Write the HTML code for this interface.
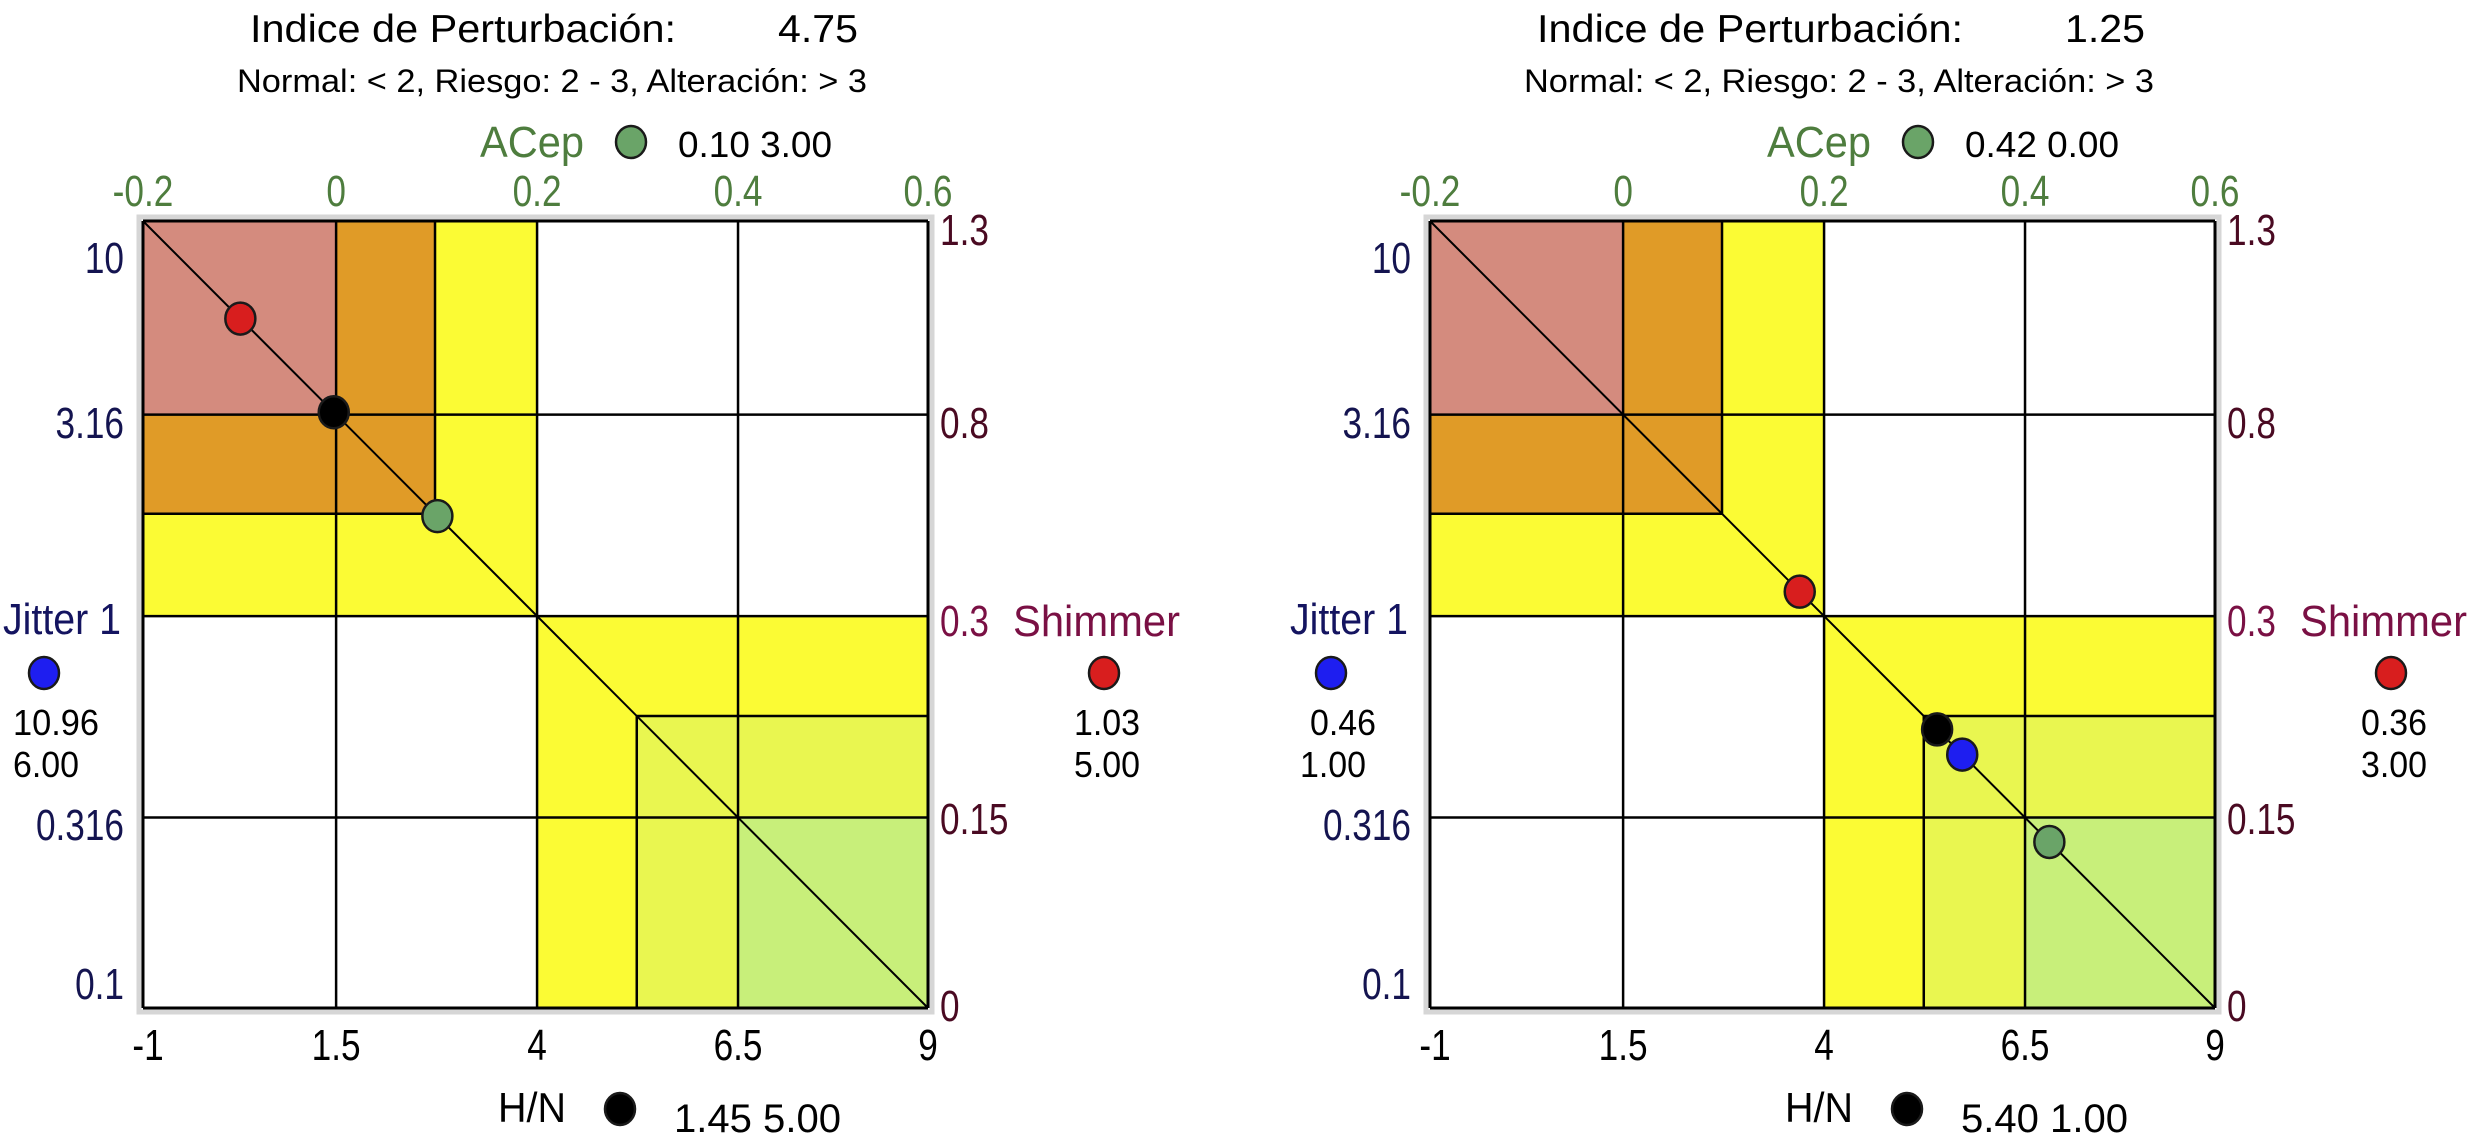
<!DOCTYPE html>
<html><head><meta charset="utf-8"><style>
html,body{margin:0;padding:0;background:#fff;}
svg{display:block;font-family:"Liberation Sans",sans-serif;}
</style></head><body>
<svg id="chart" xmlns="http://www.w3.org/2000/svg" width="2467" height="1140" viewBox="0 0 2467 1140"></svg>
<script>
// ---- data ----
const chartOffsets = [0, 1287];
const indexValues = ["4.75", "1.25"];
const topTicks = ["-0.2", "0", "0.2", "0.4", "0.6"];
const bottomTicks = ["-1", "1.5", "4", "6.5", "9"];
const leftTicks = ["10", "3.16", "1", "0.316", "0.1"];
const rightTicks = ["1.3", "0.8", "0.3", "0.15", "0"];
// diagonal position (0..1) of each parameter marker, per chart
const shimmerPos = [0.124, 0.471];
const hnPos = [0.243, 0.646];
const acepPos = [0.375, 0.789];
const jitterPos = [null, 0.678];
// printed values
const acepVals = ["0.10  3.00", "0.42  0.00"];
const hnVals = ["1.45 5.00", "5.40 1.00"];
const jitterVals = [["10.96", "6.00"], ["0.46", "1.00"]];
const shimmerVals = [["1.03", "5.00"], ["0.36", "3.00"]];

const NS = "http://www.w3.org/2000/svg";
const svg = document.getElementById("chart");
function mk(tag, attrs, parent, txt) {
  const e = document.createElementNS(NS, tag);
  for (const k in attrs) e.setAttribute(k, attrs[k]);
  if (txt !== undefined) e.textContent = txt;
  (parent || svg).appendChild(e);
  return e;
}
const PL = 143, PT = 221, PW = 785, PH = 787;
const grid = [0, 0.246, 0.372, 0.502, 0.629, 0.758, 1];

chartOffsets.forEach((ox, ci) => {
  const g = mk("g", {transform: "translate(" + ox + ",0)"});
  
  
  const X = f => PL + f * PW;
  const Y = f => PT + f * PH;
  const txt = (x, y, s, size, fill, anchor, name, len) => {
    let a;
    if (len) {
      a = {x: x, y: y, "font-size": size, fill: fill, "text-anchor": anchor || "start", textLength: len, lengthAdjust: "spacingAndGlyphs"};
    } else {
      a = {x: 0, y: 0, "font-size": size, fill: fill, "text-anchor": anchor || "start", transform: "translate(" + x + "," + y + ") scale(0.8,1)"};
    }
    const t = mk("text", a, g, s);
    
    
    return t;
  };
  // titles
  txt(250, 42, "Indice de Perturbación:", 39, "#000", "start", "index-title", 426);
  txt(778, 42, indexValues[ci], 39, "#000", "start", "index-value", 80);
  txt(237, 92, "Normal: < 2, Riesgo: 2 - 3, Alteración: > 3", 32, "#000", "start", "index-legend", 630);

  // plot frame
  const frame = mk("rect", {x: PL - 4, y: PT - 4, width: PW + 8, height: PH + 8, fill: "#fff", stroke: "#d6d6d6", "stroke-width": 5}, g);
  
  
  const zone = (f0, f1, color, name) => {
    const r = mk("rect", {x: X(f0), y: Y(f0), width: (f1 - f0) * PW, height: (f1 - f0) * PH, fill: color}, g);
    
    
  };
  zone(0, grid[3], "#fbfb34", "risk-zone-yellow-top");
  zone(0, grid[2], "#e09b27", "alteration-zone-orange");
  zone(0, grid[1], "#d48b7e", "alteration-zone-pink");
  zone(grid[3], 1, "#fbfb34", "risk-zone-yellow-bottom");
  zone(grid[4], 1, "#e9f650", "normal-zone-lightyellow");
  zone(grid[5], 1, "#c8ef7a", "normal-zone-green");

  const line = (x1, y1, x2, y2, w, name) => {
    const l = mk("line", {x1: x1, y1: y1, x2: x2, y2: y2, stroke: "#000", "stroke-width": w}, g);
    
    
  };
  [1, 3, 5].forEach(i => {
    line(X(grid[i]), Y(0), X(grid[i]), Y(1), 2.5, "grid-v");
    line(X(0), Y(grid[i]), X(1), Y(grid[i]), 2.5, "grid-h");
  });
  line(X(grid[2]), Y(0), X(grid[2]), Y(grid[2]), 2.5, "grid-v-short");
  line(X(0), Y(grid[2]), X(grid[2]), Y(grid[2]), 2.5, "grid-h-short");
  line(X(grid[4]), Y(grid[4]), X(grid[4]), Y(1), 2.5, "grid-v-short");
  line(X(grid[4]), Y(grid[4]), X(1), Y(grid[4]), 2.5, "grid-h-short");
  line(X(0), Y(0), X(1), Y(0), 3, "plot-top");
  line(X(0), Y(1), X(1), Y(1), 3, "plot-bottom");
  line(X(0), Y(0), X(0), Y(1), 3, "plot-left");
  line(X(1), Y(0), X(1), Y(1), 3, "plot-right");
  line(X(0), Y(0), X(1), Y(1), 2, "diagonal");

  // ticks
  const tf = [0, 0.246, 0.502, 0.758, 1];
  topTicks.forEach((s, i) => txt(X(tf[i]), 206, s, 44, "#4e7d3e", "middle", "top-tick-label"));
  bottomTicks.forEach((s, i) => txt(X(tf[i]) + (i == 0 ? 5 : 0), 1060, s, 44, "#000", "middle", "bottom-tick-label"));
  const leftY = [273, 438, 0, 840, 999];
  leftTicks.forEach((s, i) => { if (i !== 2) txt(124, leftY[i], s, 44, "#141450", "end", "left-tick-label"); });
  const rightY = [245, 438, 636, 834, 1021];
  const rcol = ["#4a0a22", "#4a0a22", "#7a1044", "#4a0a22", "#4a0a22"];
  rightTicks.forEach((s, i) => txt(940, rightY[i], s, 44, rcol[i], "start", "right-tick-label"));

  // axis titles / legends
  txt(121, 634, "Jitter 1", 44, "#141460", "end", "jitter-axis-title", 118);
  txt(1013, 636, "Shimmer", 44, "#7a1044", "start", "shimmer-axis-title", 167);
  txt(532, 157, "ACep", 44, "#4e7d3e", "middle", "acep-axis-title", 104);
  txt(678, 157, acepVals[ci], 36, "#000", "start", "acep-values", 154);
  txt(532, 1122, "H/N", 42, "#000", "middle", "hn-axis-title", 68);
  txt(674, 1132, hnVals[ci], 40, "#000", "start", "hn-values", 167);
  txt(56, 735, jitterVals[ci][0], 36, "#000", "middle", "jitter-value", jitterVals[ci][0].length > 4 ? 86 : 66);
  txt(46, 777, jitterVals[ci][1], 36, "#000", "middle", "jitter-score", 66);
  txt(1107, 735, shimmerVals[ci][0], 36, "#000", "middle", "shimmer-value", 66);
  txt(1107, 777, shimmerVals[ci][1], 36, "#000", "middle", "shimmer-score", 66);

  const dot = (cx, cy, fill, name) => {
    const c = mk("ellipse", {cx: cx, cy: cy, rx: 15, ry: 16, fill: fill, stroke: "#1a1a1a", "stroke-width": 2.5}, g);
    
    
  };
  // legend dots
  dot(631, 142, "#6aa468", "acep-legend-dot");
  dot(620, 1109, "#000", "hn-legend-dot");
  dot(44, 673, "#1e1ef0", "jitter-legend-dot");
  dot(1104, 673, "#d81e1e", "shimmer-legend-dot");
  // markers on diagonal
  if (jitterPos[ci] !== null) dot(X(jitterPos[ci]), Y(jitterPos[ci]), "#1e1ef0", "jitter-marker");
  dot(X(shimmerPos[ci]), Y(shimmerPos[ci]), "#d81e1e", "shimmer-marker");
  dot(X(hnPos[ci]), Y(hnPos[ci]), "#000", "hn-marker");
  dot(X(acepPos[ci]), Y(acepPos[ci]), "#6aa468", "acep-marker");
});
</script>
</body></html>
